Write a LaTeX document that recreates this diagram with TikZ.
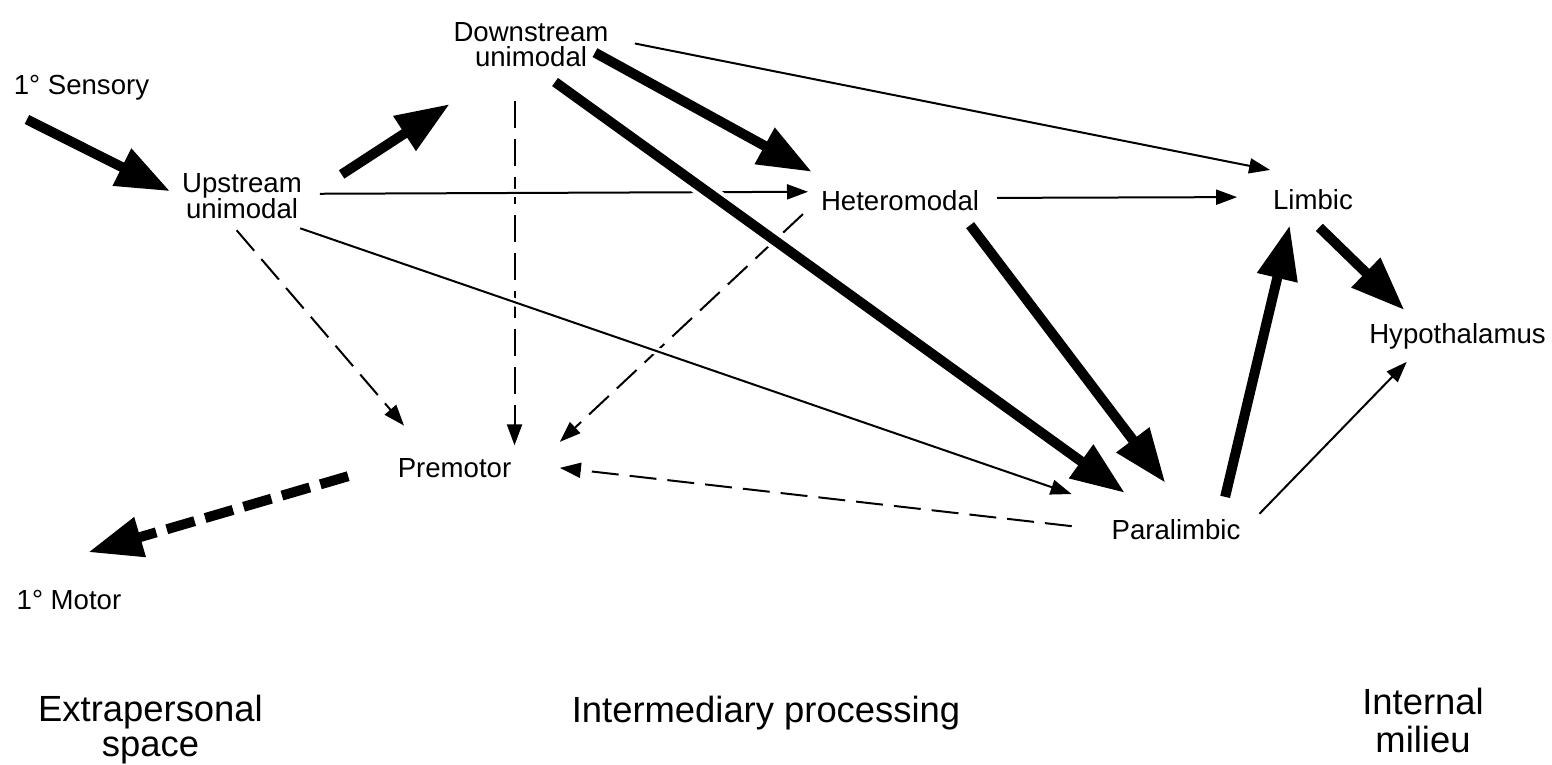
\documentclass[tikz,border=0pt]{standalone}
\usepackage{fontspec}
\setmainfont{Liberation Sans}
\usetikzlibrary{arrows.meta}

\begin{document}
\begin{tikzpicture}[x=0.5pt,y=-0.5pt,inner sep=0pt,outer sep=0pt,
  font=\fontsize{13.8}{13.3}\selectfont,
  weak/.style={line width=1pt,-{Triangle[length=10.5pt,width=7.5pt]}},
  faint/.style={weak,dash pattern=on 13.5pt off 5.5pt},
  strong/.style={line width=5pt,-{Triangle[length=27pt,width=19.5pt]}},
  strongdash/.style={strong,dash pattern=on 14.5pt off 5.5pt},
  halo/.style={preaction={draw=white,line width=#1}},
  region/.style={font=\fontsize{18.2}{17.5}\selectfont,align=center}]
\useasboundingbox (0,0) rectangle (1552,765);

\node[inner ysep=9.5pt] (sensory) at (81.5,88) {1° Sensory};
\node[align=center,inner xsep=6pt,inner ysep=5.5pt] (upstream) at (242,196.3) {Upstream\\unimodal};
\node[align=center,inner ysep=7.5pt,font=\fontsize{13.8}{12.4}\selectfont] (downstream) at (531,45) {Downstream\\unimodal};
\node[inner xsep=4.5pt,inner ysep=7pt] (heteromodal) at (900,201) {Heteromodal};
\node[inner xsep=1.5pt,inner ysep=10pt] (limbic) at (1313,200) {Limbic};
\node[inner ysep=6.5pt] (hypothalamus) at (1457.5,336) {Hypothalamus};
\node[inner xsep=1.75pt,inner ysep=6.5pt] (premotor) at (454.5,468) {Premotor};
\node[inner xsep=9.5pt,inner ysep=11.5pt] (paralimbic) at (1176,530) {Paralimbic};
\node[inner ysep=19pt] (motor) at (69,600) {1° Motor};

\node[region] (extrapersonal) at (150.5,730) {Extrapersonal\\space};
\node[region] (intermediary) at (766,713.5) {Intermediary processing};
\node[region,font=\fontsize{18.2}{19}\selectfont] (milieu) at (1423,720.8) {Internal\\milieu};

% dashed projections to premotor
\path[every edge/.append style={faint}]
 (upstream.261.6) edge[shorten >=13pt] (premotor.146.8)
 (downstream.246.6) edge[shorten <=9.5pt] (downstream.246.6 |- premotor.north)
 (heteromodal.183.6) edge[shorten <=6.2pt,shorten >=30.9pt] (premotor.-15.9)
 (paralimbic.179.7) edge[shorten <=10.5pt,shorten >=22.7pt] (premotor.5.9);

\path[every edge/.append style={weak}]
 (upstream.2.4) edge[halo=4pt,shorten <=3pt,shorten >=2pt] (heteromodal.174.2)
 (upstream.-28.1) edge[halo=4pt,shorten <=-3pt,shorten >=11.1pt] (paralimbic.161.5)
 (downstream.5.4) edge[shorten <=13.5pt] (limbic.145.1)
 (heteromodal.2.6) edge[shorten <=4.5pt,shorten >=16.5pt] (limbic.176)
 (paralimbic.11.6) edge (hypothalamus.207.7);

\path[every edge/.append style={strong}]
 (downstream.-57.7) edge[halo=9pt,shorten >=3.4pt] (paralimbic.144)
 (sensory.210.4) edge (upstream.176.8)
 (upstream.3.9) edge[shorten <=16.6pt,shorten >=20.2pt] (downstream.218.2)
 (downstream.-11.3) edge[shorten <=-7.7pt,shorten >=5.2pt] (heteromodal.163.1)
 (heteromodal.-19.7) edge[shorten >=8.8pt] (paralimbic.90.5)
 (paralimbic.34.5) edge[shorten >=-2.5pt] (limbic.231.1)
 (limbic.-73.3) edge[shorten <=-2pt] (hypothalamus.154.1)
 (premotor.175.9) edge[strongdash,shorten <=24pt] (motor.68.4);
\end{tikzpicture}
\end{document}
